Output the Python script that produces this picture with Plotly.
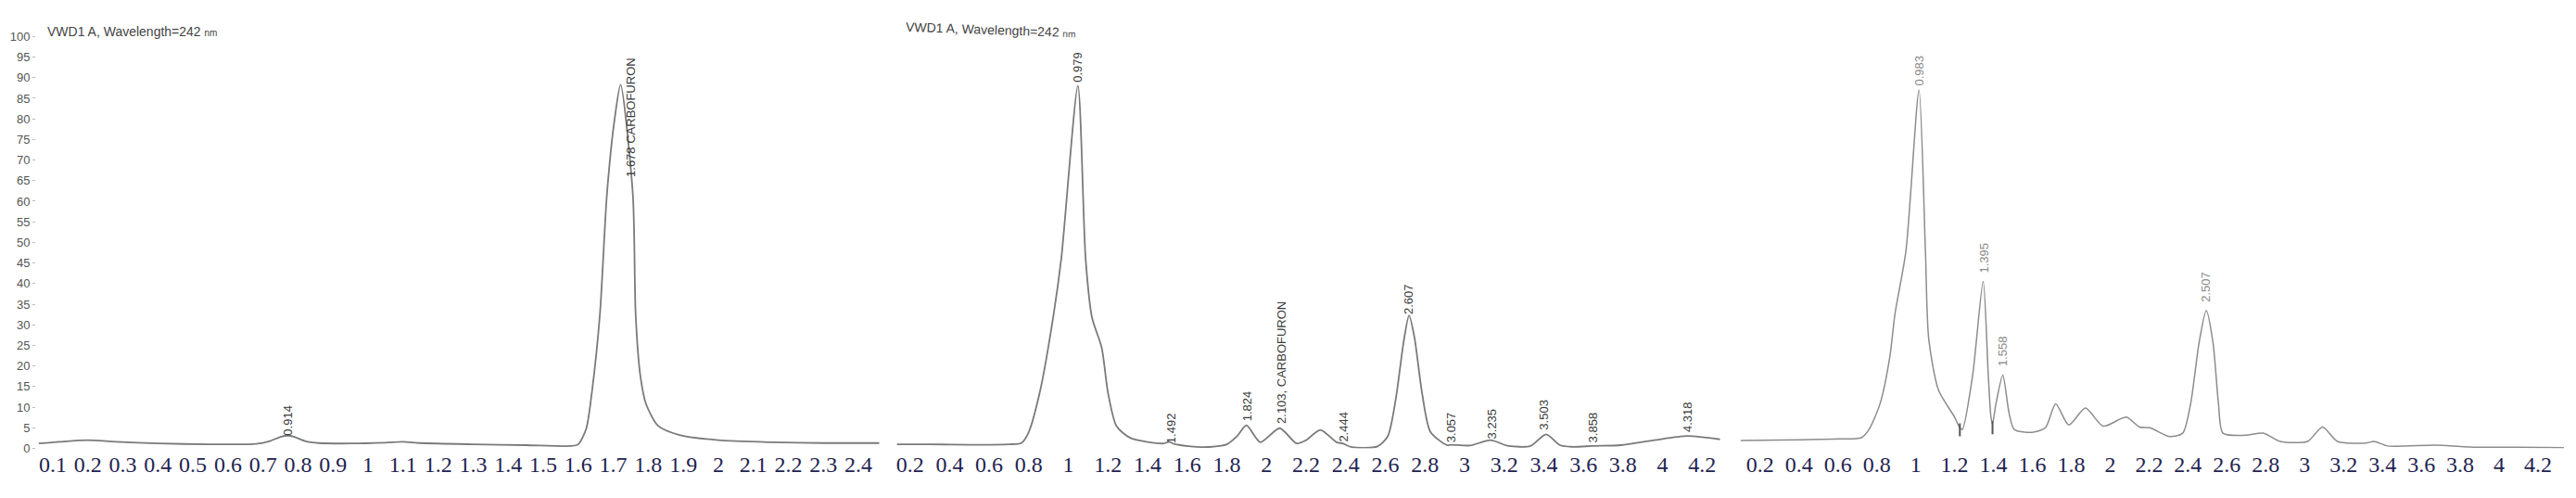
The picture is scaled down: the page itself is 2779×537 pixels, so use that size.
import plotly.graph_objects as go

W, H = 2779, 537

# ---------------- data (axis units) ----------------
# Panel 1 (standard)
u1 = [0.06, 0.12, 0.2, 0.28, 0.4, 0.55, 0.68, 0.72, 0.75, 0.77, 0.79, 0.82, 0.86, 0.95,
      1.05, 1.1, 1.15, 1.3, 1.45, 1.58, 1.6, 1.623, 1.64, 1.662, 1.682, 1.704, 1.721,
      1.756, 1.764, 1.777, 1.794, 1.828, 1.887, 2.0, 2.15, 2.3, 2.46]
v1 = [1.2, 1.6, 2.0, 1.6, 1.2, 1.0, 1.1, 1.8, 2.8, 3.1, 2.8, 1.8, 1.3, 1.2,
      1.4, 1.6, 1.3, 1.0, 0.8, 0.6, 1.0, 4.8, 14.3, 32.6, 61.7, 80.0, 88.3,
      61.7, 32.6, 17.9, 10.7, 5.5, 3.3, 2.0, 1.5, 1.3, 1.3]
peaks1_u = [0.77, 1.75]
peaks1_v = [2.6, 65.4]
peaks1_txt = ["0.914", "1.678 CARBOFURON"]

# Panel 2 (sample)
u2 = [0.13, 0.3, 0.5, 0.7, 0.7625, 0.8, 0.855, 0.923, 0.964, 1.048, 1.087, 1.119, 1.168,
      1.2, 1.243, 1.314, 1.48, 1.507, 1.54, 1.682, 1.8, 1.852, 1.899, 1.969, 2.067, 2.152,
      2.2, 2.272, 2.354, 2.385, 2.431, 2.561, 2.613, 2.653, 2.693, 2.72, 2.747, 2.787,
      2.828, 2.911, 2.933, 3.028, 3.131, 3.222, 3.333, 3.412, 3.482, 3.541, 3.65, 3.79,
      3.958, 4.126, 4.29]
v2 = [1.0, 1.0, 0.9, 1.0, 1.3, 4.0, 13.5, 31.8, 46.0, 88.0, 46.0, 31.8, 24.5,
      13.5, 5.4, 2.5, 1.2, 1.6, 1.0, 0.3, 1.0, 3.0, 5.6, 1.5, 4.9, 1.2,
      2.0, 4.5, 1.5, 1.2, 0.3, 0.5, 3.0, 12.0, 26.0, 32.3, 27.0, 13.0,
      4.0, 0.8, 0.9, 0.7, 2.0, 0.6, 0.6, 3.4, 0.8, 0.4, 0.6, 0.8,
      2.0, 3.0, 2.2]
peaks2_u = [1.048, 1.52, 1.904, 2.073, 2.392, 2.72, 2.933, 3.138, 3.40, 3.65, 4.126]
peaks2_v = [88.5, 0.8, 6.2, 5.5, 1.0, 32.0, 1.0, 1.8, 4.0, 1.0, 3.5]
peaks2_txt = ["0.979", "1.492", "1.824", "2.103, CARBOFURON", "2.444", "2.607",
              "3.057", "3.235", "3.503", "3.858", "4.318"]

# Panel 3 (sample)
u3 = [0.1, 0.4, 0.6, 0.72, 0.76, 0.817, 0.867, 0.893, 0.95, 1.017, 1.05, 1.067, 1.117,
      1.2, 1.227, 1.24, 1.293, 1.347, 1.373, 1.387, 1.395, 1.413, 1.448, 1.48, 1.507,
      1.6, 1.667, 1.72, 1.787, 1.873, 1.964, 2.083, 2.15, 2.205, 2.304, 2.373, 2.414,
      2.457, 2.494, 2.529, 2.557, 2.58, 2.693, 2.787, 2.873, 3.015, 3.092, 3.169, 3.314,
      3.357, 3.427, 3.671, 3.883, 4.1, 4.333]
v3 = [1.9, 2.1, 2.3, 2.6, 4.6, 10.9, 22.2, 32.5, 48.0, 87.0, 48.0, 26.6, 14.2,
      7.6, 5.0, 4.6, 17.8, 40.5, 18.0, 7.6, 6.0, 10.9, 17.8, 8.6, 4.6,
      3.9, 5.0, 10.8, 5.7, 9.8, 5.4, 7.6, 5.2, 5.0, 2.9, 3.7, 10.9,
      25.6, 33.5, 25.6, 10.9, 3.7, 3.2, 3.7, 1.7, 1.7, 5.2, 1.7, 1.3,
      1.7, 0.6, 0.8, 0.3, 0.3, 0.2]
peaks3_u = [1.017, 1.35, 1.448, 2.49]
peaks3_v = [87.5, 42.0, 19.5, 35.0]
peaks3_txt = ["0.983", "1.395", "1.558", "2.507"]
marks3_u = [1.227, 1.395]
marks3_v = [4.5, 5.0]

# tick labels
xt1 = [0.1, 0.2, 0.3, 0.4, 0.5, 0.6, 0.7, 0.8, 0.9, 1.0, 1.1, 1.2, 1.3, 1.4, 1.5, 1.6,
       1.7, 1.8, 1.9, 2.0, 2.1, 2.2, 2.3, 2.4]
xt1_txt = ["0.1", "0.2", "0.3", "0.4", "0.5", "0.6", "0.7", "0.8", "0.9", "1", "1.1", "1.2",
           "1.3", "1.4", "1.5", "1.6", "1.7", "1.8", "1.9", "2", "2.1", "2.2", "2.3", "2.4"]
xt23 = [0.2, 0.4, 0.6, 0.8, 1.0, 1.2, 1.4, 1.6, 1.8, 2.0, 2.2, 2.4, 2.6, 2.8, 3.0, 3.2,
        3.4, 3.6, 3.8, 4.0, 4.2]
xt23_txt = ["0.2", "0.4", "0.6", "0.8", "1", "1.2", "1.4", "1.6", "1.8", "2", "2.2", "2.4",
            "2.6", "2.8", "3", "3.2", "3.4", "3.6", "3.8", "4", "4.2"]
yt = [0, 5, 10, 15, 20, 25, 30, 35, 40, 45, 50, 55, 60, 65, 70, 75, 80, 85, 90, 95, 100]
title_txt = "VWD1 A, Wavelength=242 <span style='font-size:10px'>nm</span>"

# ---------------- figure ----------------
def px(x):
    return x / W

ydom = [(H - 482) / H, (H - 25) / H]

fig = go.Figure()
line_kw = dict(shape="spline", smoothing=0.7)
fig.add_trace(go.Scatter(x=u1, y=v1, mode="lines", xaxis="x", yaxis="y",
                         line=dict(color="#7a7a7a", width=1.8, **line_kw)))
fig.add_trace(go.Scatter(x=u2, y=v2, mode="lines", xaxis="x2", yaxis="y2",
                         line=dict(color="#7a7a7a", width=1.8, **line_kw)))
fig.add_trace(go.Scatter(x=u3, y=v3, mode="lines", xaxis="x3", yaxis="y3",
                         line=dict(color="#8c8c8c", width=1.5, **line_kw)))
fig.add_trace(go.Scatter(x=marks3_u, y=marks3_v, mode="markers", xaxis="x3", yaxis="y3",
                         marker=dict(symbol="line-ns", size=10,
                                     line=dict(color="#555", width=2))))

serif = "Liberation Serif, Times New Roman, serif"
tickfont = dict(family=serif, size=24, color="#1f2350")

common_x = dict(showgrid=False, zeroline=False, showline=False, ticks="",
                tickmode="array", tickangle=0, tickfont=tickfont, fixedrange=True)
fig.update_layout(
    width=W, height=H, margin=dict(l=0, r=0, t=0, b=0),
    paper_bgcolor="white", plot_bgcolor="white", showlegend=False,
    xaxis=dict(domain=[px(30), px(940)], range=[0.0524, 2.4598], anchor="y",
               tickvals=xt1, ticktext=xt1_txt, **common_x),
    xaxis2=dict(domain=[px(959), px(1848)], range=[0.1345, 4.2936], anchor="y2",
                tickvals=xt23, ticktext=xt23_txt, **common_x),
    xaxis3=dict(domain=[px(1869), px(2759)], range=[0.0976, 4.3382], anchor="y3",
                tickvals=xt23, ticktext=xt23_txt, **common_x),
    yaxis=dict(domain=ydom, range=[0, 100], anchor="x", showgrid=False, zeroline=False,
               showline=False, ticks="outside", ticklen=3, tickcolor="#bbbbbb",
               tickmode="array", tickvals=yt, ticktext=[str(t) for t in yt],
               tickfont=dict(family="Liberation Sans, Arial", size=13, color="#555555")),
    yaxis2=dict(domain=ydom, range=[0, 100], anchor="x2", visible=False),
    yaxis3=dict(domain=ydom, range=[0, 100], anchor="x3", visible=False),
)

ann = []
for (us, vs, ts, xr, yr, col) in [(peaks1_u, peaks1_v, peaks1_txt, "x", "y", "#3a3a3a"),
                                  (peaks2_u, peaks2_v, peaks2_txt, "x2", "y2", "#3a3a3a"),
                                  (peaks3_u, peaks3_v, peaks3_txt, "x3", "y3", "#8a8a8a")]:
    for u, v, t in zip(us, vs, ts):
        ann.append(dict(x=u, y=v, xref=xr, yref=yr, text=t, showarrow=False,
                        textangle=-90, xanchor="center", yanchor="bottom",
                        font=dict(family="Liberation Sans, Arial", size=13, color=col)))

ann.append(dict(x=px(40), y=(H - 20) / H, xref="paper", yref="paper", text=title_txt,
                showarrow=False, xanchor="left", yanchor="middle",
                font=dict(family="Liberation Sans, Arial", size=14, color="#444444")))
ann.append(dict(x=px(966), y=(H - 18) / H, xref="paper", yref="paper", text=title_txt,
                showarrow=False, xanchor="left", yanchor="middle", textangle=2,
                font=dict(family="Liberation Sans, Arial", size=14, color="#444444")))
fig.update_layout(annotations=ann)

fig.write_html("out.html")
